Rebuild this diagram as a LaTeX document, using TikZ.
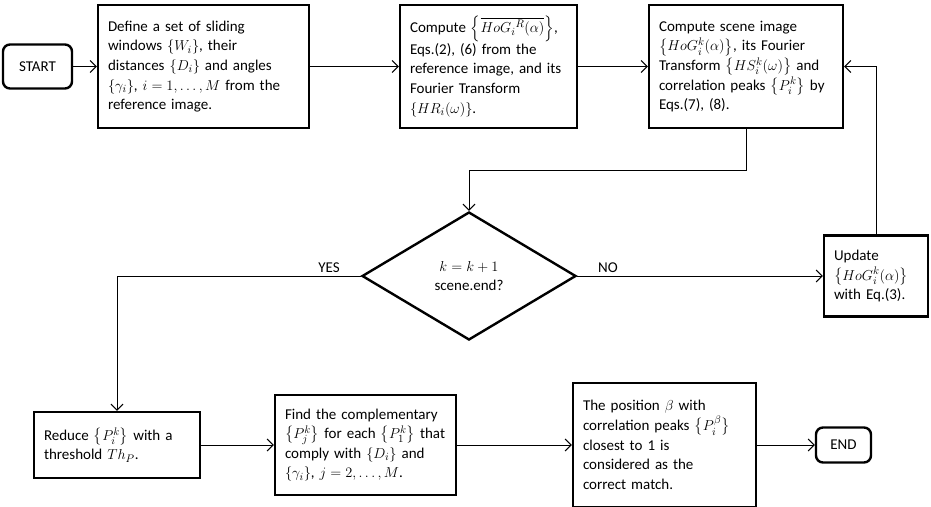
\documentclass[tikz,border=0pt]{standalone}
\usepackage{fontspec}
\setmainfont{Carlito}
\usepackage{amsmath}
\usetikzlibrary{shapes.geometric, positioning, arrows.meta}
\newcommand{\boxfont}{\fontsize{15}{19.6}\selectfont\hyphenpenalty=10000\relax}
\tikzset{stepbox/.style={draw, line width=2.4pt, align=left, inner xsep=10pt, inner ysep=3pt, font=\boxfont}}
\tikzset{termbox/.style={draw, line width=2.4pt, rounded corners=7pt, minimum width=69pt, minimum height=44pt, font=\boxfont}}
\tikzset{decision/.style={draw, diamond, line width=2.4pt, aspect=1.67, inner sep=0pt, minimum width=214pt, minimum height=128pt, align=center, font=\boxfont}}
\tikzset{link/.style={-{Straight Barb[length=6pt,width=12pt]}, line width=1pt}}

\begin{document}
\begin{tikzpicture}[x=1pt, y=1pt]
    \useasboundingbox (0,0) rectangle (931,-506);

    \node[termbox] (start) at (37.5,-66.5) {START};
    \node[stepbox, text width=191pt, minimum height=123pt, node distance=166pt, right of=start] (define)
        {Define a set of sliding\\ windows $\{W_i\}$, their\\ distances $\{D_i\}$ and angles\\ $\{\gamma_i\}$, $i=1,\ldots,M$ from the\\ reference image.};
    \node[stepbox, text width=157pt, minimum height=123pt, node distance=285pt, right of=define] (hogr)
        {Compute $\left\{\overline{{HoG_i}^R(\alpha)}\right\}$,\\ Eqs.(2), (6) from the\\ reference image, and its\\ Fourier Transform\\ $\{HR_i(\omega)\}$.};
    \node[stepbox, text width=174pt, minimum height=123pt, node distance=257.5pt, right of=hogr] (scene)
        {Compute scene image\\ $\bigl\{HoG_i^k(\alpha)\bigr\}$, its Fourier\\ Transform $\bigl\{HS_i^k(\omega)\bigr\}$ and\\ correlation peaks $\bigl\{P_i^k\bigr\}$ by\\ Eqs.(7), (8).};

    \node[decision] (cond) at (469,-276) {$k=k+1$\\ scene.end?};
    \node[stepbox, text width=84pt, minimum height=81pt, node distance=407pt, right of=cond] (update)
        {Update\\ $\bigl\{HoG_i^k(\alpha)\bigr\}$\\ with Eq.(3).};

    \node[stepbox, text width=146pt, minimum height=66pt] (reduce) at (117,-445)
        {Reduce $\bigl\{P_i^k\bigr\}$ with a\\ threshold $Th_P$.};
    \node[stepbox, text width=161pt, minimum height=100pt, node distance=248.5pt, right of=reduce] (find)
        {Find the complementary\\ $\bigl\{P_j^k\bigr\}$ for each $\bigl\{P_1^k\bigr\}$~that\\ comply with $\{D_i\}$ and\\ $\{\gamma_i\}$, $j=2,\ldots,M$.};
    \node[stepbox, text width=163pt, minimum height=124pt, node distance=299pt, right of=find] (position)
        {The position $\beta$ with\\ correlation peaks $\bigl\{P_i^\beta\bigr\}$\\ closest to 1 is\\ considered as the\\ correct match.};
    \node[termbox, minimum width=55pt, minimum height=35pt, node distance=179pt, right of=position] (finish) {END};

    \draw[link] (start) -- (define);
    \draw[link] (define) -- (hogr);
    \draw[link] (hogr) -- (scene);
    \draw[link] (scene.south) -- ++(0,-41) -| (cond.north);
    \draw[link] (cond.west) -| (reduce.north) node[pos=0.065, above, font=\boxfont]{YES};
    \draw[link] (cond.east) -- (update.west) node[pos=0.125, above, font=\boxfont]{NO};
    \draw[link] (update.north) |- (scene.east);
    \draw[link] (reduce) -- (find);
    \draw[link] (find) -- (position);
    \draw[link] (position) -- (finish);
\end{tikzpicture}
\end{document}
